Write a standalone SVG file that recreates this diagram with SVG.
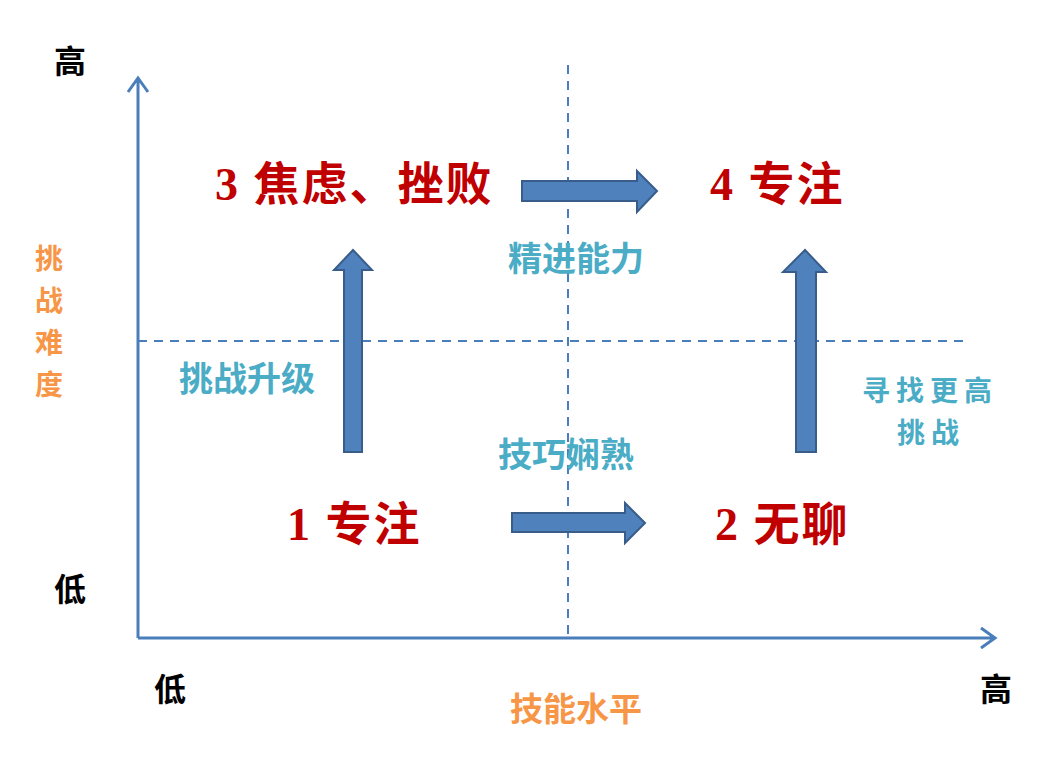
<svg xmlns="http://www.w3.org/2000/svg" width="1049" height="784" viewBox="0 0 1049 784">
<style>
.ax{stroke:#4a7ebb;stroke-width:3;fill:none}
.dash{stroke:#4a7ebb;stroke-width:2;stroke-dasharray:9,7;fill:none}
.ba{fill:#4f81bd;stroke:#385d8a;stroke-width:2}
.q{font-family:"Liberation Serif","Noto Sans CJK SC",serif;font-weight:bold;font-size:46px;letter-spacing:2px;fill:#c00000}
.lb{font-family:"Noto Sans CJK SC",sans-serif;font-weight:bold;font-size:34px;fill:#4bacc6}
.lb2{font-family:"Noto Sans CJK SC",sans-serif;font-weight:bold;font-size:28px;letter-spacing:6px;fill:#4bacc6}
.or{font-family:"Noto Sans CJK SC",sans-serif;font-weight:bold;font-size:33px;fill:#f79646}
.orv{font-family:"Noto Sans CJK SC",sans-serif;font-weight:bold;font-size:28px;fill:#f79646}
.bk{font-family:"Noto Sans CJK SC",sans-serif;font-weight:bold;font-size:32px;fill:#000}
</style>
<rect width="1049" height="784" fill="#fff"/>
<g id="connectors">
<path class="dash" d="M568 65V638M138 341H965"/>
<path class="ax" d="M138 638V78M128 92L138 78L148 92M138 638H995M981 628L995 638L981 648"/>
<path class="ba" d="M344 452V270H334L353 250L372 270H362V452Z"/>
<path class="ba" d="M796 452V272H783L805 250L826 272H816V452Z"/>
<path class="ba" d="M522 181H637V171L657 191L637 212V201H522Z"/>
<path class="ba" d="M512 513H625V503L645 523L625 543V532H512Z"/>
</g>
<g id="q3"><text class="q" x="215" y="200">3 焦虑、挫败</text></g>
<g id="q4"><text class="q" x="710" y="200">4 专注</text></g>
<g id="q1"><text class="q" x="287" y="540">1 专注</text></g>
<g id="q2"><text class="q" x="715" y="540">2 无聊</text></g>
<g id="labels">
<text class="lb" x="508" y="271">精进能力</text>
<text class="lb" x="179" y="391">挑战升级</text>
<text class="lb" x="498" y="467">技巧娴熟</text>
<text class="lb2" x="862" y="401">寻找更高</text>
<text class="lb2" x="897" y="443">挑战</text>
<text class="orv" x="35" y="269">挑</text>
<text class="orv" x="35" y="311">战</text>
<text class="orv" x="35" y="353">难</text>
<text class="orv" x="35" y="395">度</text>
<text class="or" x="510" y="721">技能水平</text>
<text class="bk" x="54" y="73">高</text>
<text class="bk" x="54" y="601">低</text>
<text class="bk" x="154" y="701">低</text>
<text class="bk" x="980" y="701">高</text>
</g>
</svg>
